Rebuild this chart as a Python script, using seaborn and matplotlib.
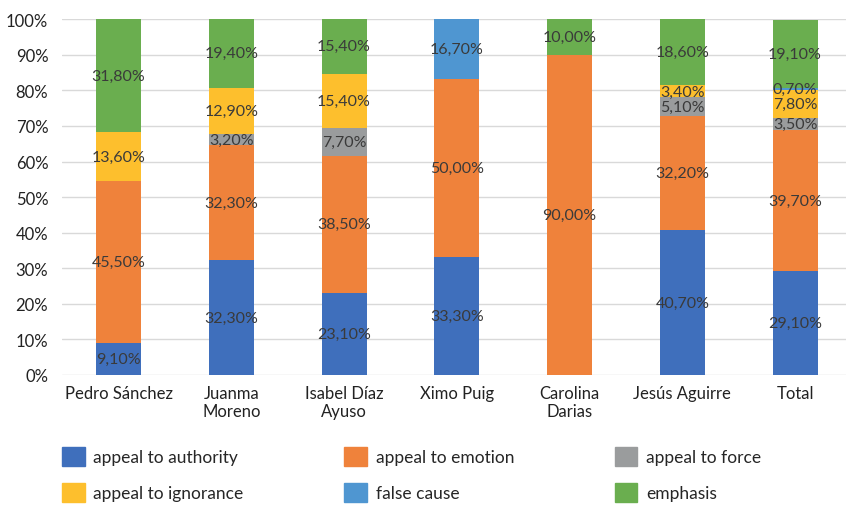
import pandas as pd
import numpy as np
import seaborn as sns
import matplotlib.pyplot as plt
from matplotlib.patches import Patch

# categories (x axis)
speakers = ["Pedro Sánchez", "Juanma\nMoreno", "Isabel Díaz\nAyuso", "Ximo Puig",
            "Carolina\nDarias", "Jesús Aguirre", "Total"]

# percentages per fallacy type, stacked bottom -> top
authority = [9.1, 32.3, 23.1, 33.3, 0.0, 40.7, 29.1]
emotion = [45.5, 32.3, 38.5, 50.0, 90.0, 32.2, 39.7]
force = [0.0, 3.2, 7.7, 0.0, 0.0, 5.1, 3.5]
ignorance = [13.6, 12.9, 15.4, 0.0, 0.0, 3.4, 7.8]
false_cause = [0.0, 0.0, 0.0, 16.7, 0.0, 0.0, 0.7]
emphasis = [31.8, 19.4, 15.4, 0.0, 10.0, 18.6, 19.1]

series = {
    "appeal to authority": authority,
    "appeal to emotion": emotion,
    "appeal to force": force,
    "appeal to ignorance": ignorance,
    "false cause": false_cause,
    "emphasis": emphasis,
}
colors = {
    "appeal to authority": "#3f6fbc",
    "appeal to emotion": "#ef823b",
    "appeal to force": "#9a9c9d",
    "appeal to ignorance": "#fdbf2d",
    "false cause": "#4f96d1",
    "emphasis": "#6aae4f",
}

sns.set_style("white")
plt.rcParams["font.family"] = ["Lato", "DejaVu Sans"]

fig = plt.figure(figsize=(8.46, 5.06), dpi=100)
ax = fig.add_axes([0.0735, 0.257, 0.933, 0.703])

df = pd.DataFrame(series)
df["speaker"] = speakers
bottom = np.zeros(len(speakers))
for name, vals in series.items():
    sns.barplot(data=df, x="speaker", y=name, bottom=bottom, color=colors[name],
                width=0.4, ax=ax, saturation=1, linewidth=0)
    for i, v in enumerate(vals):
        if v > 0:
            ax.text(i, bottom[i] + v / 2, f"{v:.2f}%".replace(".", ","),
                    ha="center", va="center", fontsize=11.5, color="#3a3a3a")
    bottom = bottom + np.array(vals)

ax.set_ylim(0, 100)
ax.set_xlim(-0.5, len(speakers) - 0.5)
ax.set_yticks(range(0, 101, 10))
ax.set_yticklabels([f"{t}%" for t in range(0, 101, 10)])
ax.yaxis.grid(True, color="#d9d9d9", linewidth=1)
ax.set_axisbelow(True)
for s in ax.spines.values():
    s.set_visible(False)
ax.set_xlabel("")
ax.set_ylabel("")
ax.tick_params(axis="both", length=0, labelsize=12, colors="#222222")
ax.tick_params(axis="y", pad=10)
ax.tick_params(axis="x", pad=7)

names = list(series.keys())
order = [0, 3, 1, 4, 2, 5]
handles = [Patch(color=colors[names[k]], label=names[k]) for k in order]
fig.legend(handles=handles, ncol=3, loc="lower left", bbox_to_anchor=(0.055, -0.025),
           frameon=False, fontsize=12.5, handlelength=1.3, handleheight=1.3,
           columnspacing=5.8, labelspacing=1.0, handletextpad=0.5)

fig.savefig("out.png", dpi=100)
